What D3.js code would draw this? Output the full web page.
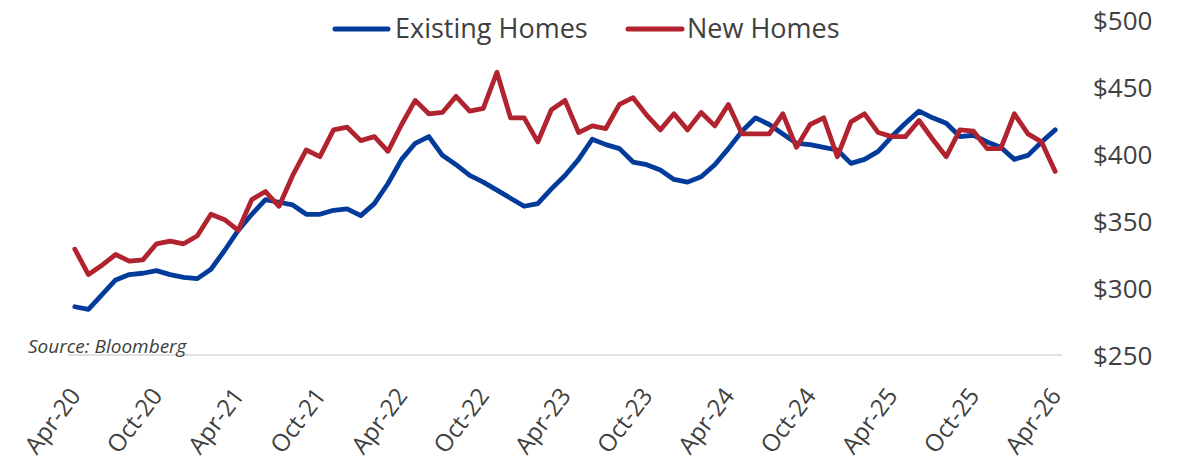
<!DOCTYPE html>
<html>
<head>
<meta charset="utf-8">
<script src="https://cdn.jsdelivr.net/npm/d3@7"></script>
<style>
  html, body { margin: 0; padding: 0; background: #fff; }
  svg { display: block; font-family: "Open Sans", sans-serif; }
</style>
</head>
<body>
<svg id="chart" width="1191" height="469"></svg>
<script>
// ---- Data ----
const startMonth = { year: 2020, month: 3 }; // April 2020 (0-based month)
const monthCount = 73;
const monthNames = ["Jan","Feb","Mar","Apr","May","Jun","Jul","Aug","Sep","Oct","Nov","Dec"];

const existingHomes = [286,284,295,306,310,311,313,310,308,307,314,328,343,355,366,364,362,355,355,358,
  359,354,363,378,396,408,413,399,392,384,379,373,367,361,363,374,384,396,411,407,
  404,394,392,388,381,379,383,392,404,417,427,422,415,408,407,405,403,393,396,402,
  413,423,432,427,423,413,414,409,405,396,399,409,418];

const newHomes = [329,310,317,325,320,321,333,335,333,339,355,351,343,366,372,361,384,403,398,418,
  420,410,413,402,422,440,430,431,443,432,434,461,427,427,409,433,440,416,421,419,
  437,442,429,418,430,418,431,421,437,415,415,415,430,405,422,427,398,424,430,416,
  413,413,425,411,398,418,417,404,404,430,415,409,387];

const yTicks = [250, 300, 350, 400, 450, 500];
const seriesNames = ["Existing Homes", "New Homes"];
const seriesColors = ["#023b9a", "#b1232f"];
const sourceText = "Source: Bloomberg";

// ---- Build categories ----
const categories = d3.range(monthCount).map(i => {
  const m = (startMonth.month + i) % 12;
  const y = startMonth.year + Math.floor((startMonth.month + i) / 12);
  return monthNames[m] + "-" + String(y).slice(2);
});
const labelEvery = 6;

// ---- Scales ----
const svg = d3.select("#chart");
const x = d3.scaleBand().domain(categories).range([68, 1062]).padding(0);
const xc = d => x(d) + x.bandwidth() / 2;
const y = d3.scaleLinear().domain([250, 500]).range([355, 20]);

// baseline axis line
svg.append("line")
  .attr("x1", 68).attr("x2", 1062)
  .attr("y1", y(250)).attr("y2", y(250))
  .attr("stroke", "#d9d9d9").attr("stroke-width", 1.5);

// Y axis (right side labels)
const yAxis = d3.axisRight(y).tickValues(yTicks).tickSize(0).tickPadding(0)
  .tickFormat(d => "$" + d);
const gy = svg.append("g").attr("transform", "translate(1093,0)").call(yAxis);
gy.select(".domain").remove();
gy.selectAll("text")
  .attr("font-family", "Open Sans, sans-serif")
  .attr("font-size", 26)
  .attr("fill", "#404040")
  .attr("dy", "0.35em");

// X axis labels
const xAxis = d3.axisBottom(x)
  .tickValues(categories.filter((d, i) => i % labelEvery === 0))
  .tickSize(0).tickPadding(0);
const gx = svg.append("g").attr("transform", "translate(0,0)").call(xAxis);
gx.select(".domain").remove();
gx.selectAll(".tick").attr("transform", d => `translate(${xc(d)},0)`);
gx.selectAll("text")
  .attr("font-family", "Open Sans, sans-serif")
  .attr("font-size", 24)
  .attr("fill", "#404040")
  .attr("text-anchor", "end")
  .attr("dy", null).attr("y", null)
  .attr("transform", "translate(7,396) rotate(-53)");

// Lines
const line = d3.line().x((d, i) => xc(categories[i])).y(d => y(d));
[existingHomes, newHomes].forEach((vals, k) => {
  svg.append("path")
    .datum(vals)
    .attr("d", line)
    .attr("fill", "none")
    .attr("stroke", seriesColors[k])
    .attr("stroke-width", 4.8)
    .attr("stroke-linejoin", "round")
    .attr("stroke-linecap", "round");
});

// Legend
const legendItems = [
  { name: seriesNames[0], color: seriesColors[0], x1: 335, x2: 388, tx: 395 },
  { name: seriesNames[1], color: seriesColors[1], x1: 628, x2: 682, tx: 687 }
];
const lg = svg.append("g");
legendItems.forEach(it => {
  lg.append("line").attr("x1", it.x1).attr("x2", it.x2).attr("y1", 29).attr("y2", 29)
    .attr("stroke", it.color).attr("stroke-width", 5).attr("stroke-linecap", "round");
  lg.append("text").attr("x", it.tx).attr("y", 38)
    .attr("font-size", 27).attr("fill", "#404040").text(it.name);
});

// Source
svg.append("text").attr("x", 28).attr("y", 353)
  .attr("font-size", 19).attr("font-style", "italic").attr("fill", "#404040")
  .text(sourceText);
</script>
</body>
</html>
